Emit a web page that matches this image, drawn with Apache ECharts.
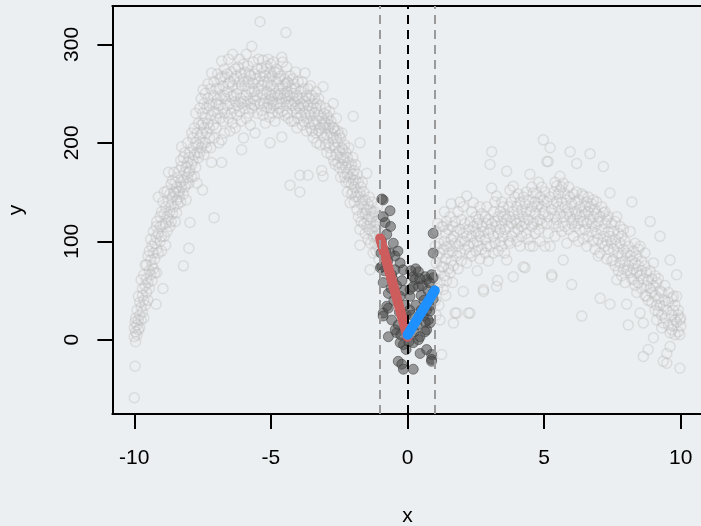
<!DOCTYPE html>
<html>
<head>
<meta charset="utf-8">
<title>Local fits around the cutoff</title>
<script src="https://cdn.jsdelivr.net/npm/echarts@6/dist/echarts.min.js"></script>
<style>
  html, body { margin: 0; padding: 0; background: #eceff1; }
  #chart { width: 701px; height: 526px; }
</style>
</head>
<body>
<div id="chart"></div>
<script>
// Axis ticks
const xTicks = [-10, -5, 0, 5, 10];
const yTicks = [0, 100, 200, 300];

// Bandwidth edges and the cutoff
const bandEdges = [-1, 1];
const cutoff = 0;

// Fitted lines on each side of the cutoff
const fitLeft = [[-1, 103], [0, 3]];
const fitRight = [[0, 5], [1, 50]];

// Observations below the bandwidth (x < -1)
const greyLeft = [
  [-10.0,-59],[-10.0,12],[-10.0,3],[-9.97,-27],[-9.97,18],[-9.95,8],[-9.95,22],[-9.95,-2],
  [-9.9,15],[-9.9,30],[-9.9,5],[-9.85,44],[-9.85,20],[-9.85,10],[-9.8,25],[-9.8,38],[-9.8,12],
  [-9.75,61],[-9.75,33],[-9.75,20],[-9.7,45],[-9.7,28],[-9.7,52],[-9.65,40],[-9.65,66],[-9.65,22],
  [-9.6,55],[-9.6,35],[-9.6,76],[-9.55,76],[-9.55,48],[-9.55,62],[-9.5,58],[-9.5,85],[-9.5,40],
  [-9.45,90],[-9.45,70],[-9.45,52],[-9.4,66],[-9.4,102],[-9.4,81],[-9.35,75],[-9.35,95],[-9.35,60],
  [-9.3,88],[-9.3,110],[-9.3,72],[-9.25,98],[-9.25,68],[-9.25,82],[-9.2,36],[-9.2,104],[-9.2,115],
  [-9.18,68],[-9.18,92],[-9.18,120],[-9.12,145],[-9.12,108],[-9.12,88],[-9.05,100],[-9.05,125],[-9.05,115],
  [-9.0,90],[-9.0,130],[-9.0,105],[-8.95,52],[-8.95,117],[-8.95,140],[-8.9,105],[-8.9,128],[-8.9,150],
  [-8.85,118],[-8.85,96],[-8.85,135],[-8.8,151],[-8.8,125],[-8.8,110],[-8.75,170],[-8.75,140],[-8.75,122],
  [-8.7,130],[-8.7,148],[-8.7,115],[-8.65,137],[-8.65,158],[-8.65,120],[-8.6,145],[-8.6,128],[-8.6,162],
  [-8.55,150],[-8.55,135],[-8.55,170],[-8.5,149],[-8.5,120],[-8.5,160],[-8.45,129],[-8.45,155],[-8.45,142],
  [-8.4,165],[-8.4,138],[-8.4,150],[-8.35,151],[-8.35,172],[-8.35,145],[-8.3,160],[-8.3,140],[-8.3,182],
  [-8.27,176],[-8.27,196],[-8.27,155],[-8.2,75],[-8.2,162],[-8.2,148],[-8.2,185],[-8.15,170],[-8.15,155],[-8.15,190],
  [-8.1,158],[-8.1,175],[-8.1,142],[-8.05,180],[-8.05,165],[-8.05,200],[-8.0,93],[-8.0,159],[-8.0,185],[-8.0,170],
  [-7.96,119],[-7.96,190],[-7.96,172],[-7.9,210],[-7.9,178],[-7.9,165],[-7.85,195],[-7.85,182],[-7.85,205],
  [-7.8,166],[-7.8,188],[-7.8,215],[-7.75,200],[-7.75,175],[-7.75,230],[-7.7,159],[-7.7,210],[-7.7,190],
  [-7.65,185],[-7.65,220],[-7.65,198],[-7.6,205],[-7.6,235],[-7.6,190],[-7.55,218],[-7.55,195],[-7.55,245],
  [-7.5,230],[-7.5,152],[-7.5,210],[-7.48,254],[-7.48,200],[-7.48,220],[-7.45,188],[-7.45,240],[-7.45,215],
  [-7.4,200],[-7.4,225],[-7.4,250],[-7.35,235],[-7.35,210],[-7.35,195],[-7.3,245],[-7.3,220],[-7.3,260],
  [-7.25,205],[-7.25,238],[-7.25,215],[-7.2,255],[-7.2,228],[-7.2,195],[-7.17,271],[-7.17,180],[-7.17,240],
  [-7.1,218],[-7.1,248],[-7.1,232],[-7.08,124],[-7.08,262],[-7.08,205],[-7.0,240],[-7.0,215],[-7.0,255],[-7.0,225],
  [-6.95,244],[-6.95,270],[-6.95,230],[-6.9,200],[-6.9,255],[-6.9,238],[-6.85,265],[-6.85,225],[-6.85,248],
  [-6.8,283],[-6.8,203],[-6.8,180],[-6.8,267],[-6.75,235],[-6.75,258],[-6.75,222],[-6.7,248],[-6.7,275],[-6.7,210],
  [-6.68,267],[-6.68,230],[-6.68,245],[-6.6,252],[-6.6,238],[-6.6,270],[-6.55,225],[-6.55,260],[-6.55,285],
  [-6.5,240],[-6.5,212],[-6.5,262],[-6.45,247],[-6.45,272],[-6.45,230],[-6.4,258],[-6.4,220],[-6.4,290],
  [-6.35,235],[-6.35,265],[-6.35,248],[-6.3,275],[-6.3,242],[-6.3,215],[-6.25,250],[-6.25,228],[-6.25,268],
  [-6.2,277],[-6.2,255],[-6.2,238],[-6.15,232],[-6.15,262],[-6.15,285],[-6.1,245],[-6.1,270],[-6.1,222],
  [-6.07,193],[-6.07,258],[-6.07,240],[-6.0,265],[-6.0,242],[-6.0,280],[-6.0,205],[-5.95,235],[-5.95,258],[-5.95,272],
  [-5.9,248],[-5.9,225],[-5.9,290],[-5.84,242],[-5.84,262],[-5.84,278],[-5.8,255],[-5.8,230],[-5.8,270],
  [-5.75,268],[-5.75,240],[-5.75,218],[-5.7,298],[-5.7,252],[-5.7,235],[-5.65,260],[-5.65,282],[-5.65,245],
  [-5.6,238],[-5.6,270],[-5.6,252],[-5.58,210],[-5.58,265],[-5.58,243],[-5.5,275],[-5.5,248],[-5.5,230],
  [-5.45,255],[-5.45,285],[-5.45,262],[-5.4,323],[-5.4,240],[-5.4,268],[-5.34,233],[-5.34,258],[-5.34,276],
  [-5.29,284],[-5.29,250],[-5.29,228],[-5.25,262],[-5.25,240],[-5.25,272],[-5.2,245],[-5.2,268],[-5.2,220],
  [-5.15,278],[-5.15,252],[-5.15,236],[-5.1,261],[-5.1,240],[-5.1,285],[-5.05,250],[-5.05,226],[-5.05,266],
  [-5.03,200],[-5.03,244],[-5.03,272],[-5.0,258],[-5.0,235],[-5.0,280],[-5.0,248],[-4.95,242],[-4.95,268],[-4.95,230],
  [-4.9,282],[-4.9,255],[-4.9,238],[-4.85,250],[-4.85,272],[-4.85,222],[-4.8,262],[-4.8,240],[-4.8,275],
  [-4.74,271],[-4.74,248],[-4.74,230],[-4.7,255],[-4.7,235],[-4.7,265],[-4.65,240],[-4.65,268],[-4.65,250],
  [-4.6,206],[-4.6,245],[-4.6,287],[-4.57,282],[-4.57,258],[-4.57,232],[-4.5,250],[-4.5,228],[-4.5,265],
  [-4.45,312],[-4.45,245],[-4.45,260],[-4.42,277],[-4.42,238],[-4.42,252],[-4.4,230],[-4.4,262],[-4.4,248],
  [-4.37,261],[-4.37,225],[-4.37,242],[-4.3,248],[-4.3,268],[-4.3,157],[-4.25,222],[-4.25,255],[-4.25,240],
  [-4.2,265],[-4.2,238],[-4.2,250],[-4.15,242],[-4.15,222],[-4.15,260],[-4.1,255],[-4.1,235],[-4.1,272],
  [-4.05,230],[-4.05,248],[-4.05,215],[-4.0,245],[-4.0,262],[-4.0,225],[-4.0,238],[-3.94,150],[-3.94,167],[-3.94,235],
  [-3.9,252],[-3.9,228],[-3.9,240],[-3.85,218],[-3.85,245],[-3.85,262],[-3.8,238],[-3.8,222],[-3.8,255],
  [-3.75,271],[-3.75,242],[-3.75,230],[-3.7,225],[-3.7,248],[-3.7,212],[-3.64,167],[-3.64,238],[-3.64,255],
  [-3.6,220],[-3.6,245],[-3.6,232],[-3.55,258],[-3.55,228],[-3.55,215],[-3.5,235],[-3.5,212],[-3.5,248],
  [-3.45,222],[-3.45,240],[-3.45,205],[-3.4,245],[-3.4,218],[-3.4,230],[-3.35,210],[-3.35,235],[-3.35,252],
  [-3.32,223],[-3.32,200],[-3.32,240],[-3.25,228],[-3.25,212],[-3.25,245],[-3.2,215],[-3.2,238],[-3.2,198],
  [-3.14,172],[-3.14,225],[-3.14,210],[-3.09,257],[-3.09,166],[-3.09,218],[-3.05,205],[-3.05,230],[-3.05,222],
  [-3.0,215],[-3.0,198],[-3.0,235],[-3.0,220],[-2.95,208],[-2.95,228],[-2.95,190],[-2.9,225],[-2.9,200],[-2.9,215],
  [-2.85,195],[-2.85,218],[-2.85,232],[-2.8,210],[-2.8,188],[-2.8,222],[-2.72,240],[-2.72,205],[-2.72,215],
  [-2.7,198],[-2.7,182],[-2.7,215],[-2.65,212],[-2.65,195],[-2.65,178],[-2.6,188],[-2.6,205],[-2.6,225],
  [-2.55,200],[-2.55,180],[-2.55,212],[-2.5,192],[-2.5,175],[-2.5,208],[-2.45,185],[-2.45,205],[-2.45,165],
  [-2.4,178],[-2.4,195],[-2.4,210],[-2.36,193],[-2.36,170],[-2.36,185],[-2.3,182],[-2.3,165],[-2.3,198],
  [-2.25,175],[-2.25,190],[-2.25,160],[-2.2,168],[-2.2,185],[-2.2,150],[-2.15,180],[-2.15,160],[-2.15,195],
  [-2.1,173],[-2.1,139],[-2.1,165],[-2.05,158],[-2.05,178],[-2.05,148],[-2.0,168],[-2.0,150],[-2.0,185],
  [-1.99,227],[-1.99,162],[-1.95,155],[-1.95,172],[-1.95,140],[-1.9,162],[-1.9,145],[-1.9,178],
  [-1.85,150],[-1.85,168],[-1.85,132],[-1.8,145],[-1.8,160],[-1.8,125],[-1.74,200],[-1.74,149],[-1.74,112],[-1.74,96],
  [-1.7,155],[-1.7,138],[-1.7,120],[-1.65,142],[-1.65,128],[-1.65,160],[-1.6,135],[-1.6,150],[-1.6,118],
  [-1.55,128],[-1.55,142],[-1.55,108],[-1.49,169],[-1.49,132],[-1.49,115],[-1.45,138],[-1.45,122],[-1.45,102],
  [-1.4,125],[-1.4,112],[-1.4,145],[-1.37,71],[-1.35,118],[-1.35,132],[-1.35,98],[-1.3,110],[-1.3,125],[-1.3,140],
  [-1.26,129],[-1.26,88],[-1.26,105],[-1.2,115],[-1.2,98],[-1.2,130],[-1.15,105],[-1.15,120],[-1.15,90],
  [-1.1,112],[-1.1,95],[-1.1,135],[-1.05,100],[-1.05,118],[-1.05,82],[-1.02,108],[-1.02,90],[-1.02,125]
];

// Observations above the bandwidth (x > 1)
const greyRight = [
  [1.02,62],[1.02,95],[1.02,40],[1.05,110],[1.05,78],[1.05,25],[1.1,85],[1.1,52],[1.1,118],
  [1.15,70],[1.15,98],[1.15,35],[1.19,58],[1.19,20],[1.19,88],[1.25,115],[1.25,-15],[1.25,74],
  [1.31,74],[1.31,51],[1.31,115],[1.31,92],[1.35,100],[1.35,65],[1.35,130],[1.4,82],[1.4,108],[1.4,45],
  [1.43,95],[1.43,120],[1.43,60],[1.5,88],[1.5,72],[1.5,112],[1.56,68],[1.56,95],[1.56,125],
  [1.6,102],[1.6,80],[1.6,138],[1.65,90],[1.65,115],[1.65,58],[1.68,17],[1.68,105],[1.68,75],
  [1.74,27],[1.74,98],[1.74,120],[1.8,27],[1.8,110],[1.8,85],[1.85,95],[1.85,130],[1.85,72],
  [1.92,112],[1.92,88],[1.92,140],[1.97,100],[1.97,122],[1.97,80],[2.04,49],[2.04,108],[2.04,135],
  [2.1,118],[2.1,92],[2.1,100],[2.17,146],[2.17,105],[2.17,78],[2.23,27],[2.23,112],[2.23,95],
  [2.29,88],[2.29,27],[2.29,120],[2.35,105],[2.35,130],[2.35,85],[2.41,139],[2.41,98],[2.41,115],
  [2.5,110],[2.5,90],[2.5,125],[2.55,100],[2.55,70],[2.55,118],[2.6,122],[2.6,95],[2.6,108],
  [2.65,105],[2.65,135],[2.65,82],[2.72,115],[2.72,92],[2.72,128],[2.78,49],[2.78,51],[2.78,110],
  [2.85,102],[2.85,125],[2.85,88],[2.9,118],[2.9,95],[2.9,135],[2.96,108],[2.96,80],[2.96,122],
  [3.02,178],[3.02,112],[3.02,95],[3.08,191],[3.08,154],[3.08,118],[3.14,88],[3.14,105],[3.14,130],
  [3.2,120],[3.2,98],[3.2,140],[3.26,146],[3.26,115],[3.26,54],[3.3,60],[3.32,108],[3.32,125],[3.32,90],
  [3.4,130],[3.4,112],[3.4,100],[3.45,118],[3.45,140],[3.45,95],[3.5,125],[3.5,105],[3.5,135],
  [3.56,112],[3.56,128],[3.56,88],[3.63,171],[3.63,81],[3.63,122],[3.7,135],[3.7,115],[3.7,100],
  [3.75,152],[3.75,98],[3.75,125],[3.8,118],[3.8,140],[3.8,105],[3.87,156],[3.87,64],[3.87,130],
  [3.93,122],[3.93,110],[3.93,145],[4.0,118],[4.0,135],[4.0,100],[4.05,128],[4.05,112],[4.05,148],
  [4.12,140],[4.12,120],[4.12,95],[4.18,115],[4.18,132],[4.18,105],[4.24,74],[4.24,125],[4.24,145],
  [4.3,73],[4.3,138],[4.3,118],[4.35,130],[4.35,108],[4.35,150],[4.42,122],[4.42,142],[4.42,102],
  [4.48,168],[4.48,95],[4.48,130],[4.55,135],[4.55,115],[4.55,155],[4.6,95],[4.6,118],[4.6,149],
  [4.67,128],[4.67,140],[4.67,108],[4.73,149],[4.73,120],[4.73,135],[4.8,112],[4.8,138],[4.8,160],
  [4.85,122],[4.85,145],[4.85,100],[4.92,135],[4.92,118],[4.92,155],[4.97,203],[4.97,128],[4.97,142],
  [5.03,95],[5.03,130],[5.03,150],[5.1,181],[5.1,118],[5.1,140],[5.15,181],[5.15,125],[5.15,108],
  [5.22,195],[5.22,95],[5.22,145],[5.28,66],[5.28,64],[5.28,132],[5.35,150],[5.35,118],[5.35,138],
  [5.4,125],[5.4,160],[5.4,105],[5.46,156],[5.46,122],[5.46,140],[5.52,135],[5.52,115],[5.52,148],
  [5.58,166],[5.58,152],[5.58,128],[5.64,140],[5.64,110],[5.64,155],[5.7,125],[5.7,81],[5.7,159],
  [5.76,135],[5.76,148],[5.76,115],[5.83,98],[5.83,142],[5.83,128],[5.9,130],[5.9,155],[5.9,112],
  [5.95,191],[5.95,125],[5.95,145],[6.01,56],[6.01,138],[6.01,118],[6.07,122],[6.07,148],[6.07,105],
  [6.13,140],[6.13,115],[6.13,130],[6.19,179],[6.19,128],[6.19,150],[6.25,118],[6.25,142],[6.25,100],
  [6.31,125],[6.31,135],[6.31,112],[6.38,24],[6.38,130],[6.38,148],[6.44,102],[6.44,146],[6.44,120],
  [6.5,135],[6.5,112],[6.5,128],[6.56,118],[6.56,140],[6.56,95],[6.62,130],[6.62,105],[6.62,145],
  [6.68,189],[6.68,122],[6.68,135],[6.74,110],[6.74,138],[6.74,118],[6.8,125],[6.8,100],[6.8,142],
  [6.86,115],[6.86,132],[6.86,92],[6.92,128],[6.92,108],[6.92,140],[6.98,102],[6.98,120],[6.98,85],
  [7.05,88],[7.05,42],[7.05,125],[7.11,112],[7.11,135],[7.11,98],[7.17,176],[7.17,129],[7.17,105],
  [7.23,118],[7.23,95],[7.23,130],[7.29,100],[7.29,122],[7.29,82],[7.35,110],[7.35,92],[7.35,125],
  [7.41,36],[7.41,149],[7.41,105],[7.47,98],[7.47,118],[7.47,80],[7.53,81],[7.53,110],[7.53,92],
  [7.6,102],[7.6,75],[7.6,120],[7.66,125],[7.66,61],[7.66,95],[7.72,88],[7.72,108],[7.72,70],
  [7.78,98],[7.78,115],[7.78,78],[7.84,85],[7.84,105],[7.84,65],[7.9,92],[7.9,72],[7.9,112],
  [7.96,80],[7.96,100],[7.96,58],[8.02,36],[8.02,88],[8.02,70],[8.08,15],[8.08,95],[8.08,75],
  [8.15,110],[8.15,68],[8.15,85],[8.21,140],[8.21,80],[8.21,62],[8.27,61],[8.27,90],[8.27,72],
  [8.33,78],[8.33,55],[8.33,98],[8.39,68],[8.39,85],[8.39,48],[8.45,75],[8.45,58],[8.45,92],
  [8.51,95],[8.51,27],[8.51,65],[8.57,52],[8.57,80],[8.57,70],[8.63,17],[8.63,-17],[8.63,62],
  [8.69,75],[8.69,45],[8.69,88],[8.75,44],[8.75,68],[8.75,55],[8.81,-10],[8.81,60],[8.81,40],
  [8.88,120],[8.88,52],[8.88,70],[8.94,38],[8.94,62],[8.94,48],[9.0,2],[9.0,78],[9.0,55],
  [9.06,45],[9.06,30],[9.06,65],[9.12,58],[9.12,35],[9.12,20],[9.18,42],[9.18,62],[9.18,28],
  [9.24,105],[9.24,35],[9.24,50],[9.3,25],[9.3,48],[9.3,12],[9.36,17],[9.36,-22],[9.36,34],
  [9.42,40],[9.42,22],[9.42,55],[9.49,-24],[9.49,-14],[9.49,30],[9.55,38],[9.55,15],[9.55,48],
  [9.61,81],[9.61,-7],[9.61,7],[9.67,25],[9.67,42],[9.67,10],[9.73,14],[9.73,44],[9.73,30],
  [9.79,20],[9.79,5],[9.79,35],[9.85,66],[9.85,44],[9.85,18],[9.91,25],[9.91,8],[9.91,30],
  [9.97,20],[9.97,5],[9.97,-29],[10.0,14],[10.0,22]
];

// Observations inside the bandwidth (-1 <= x <= 1)
const bandPoints = [
  [-0.99,73],[-0.94,143],[-0.89,142],[-0.89,125],[-0.64,131],[-0.82,119],[-0.76,107],[-0.52,98],
  [-0.64,88],[-0.46,85],[-0.27,78],[-0.94,74],[-0.46,71],[-0.16,71],[-0.89,58],[-0.70,47],
  [-0.27,44],[-0.76,34],[-0.70,32],[-0.89,27],[-0.89,24],[-0.58,20],[-0.34,15],[-0.70,3],
  [-0.40,7],[-0.15,-5],[-0.27,-3],[-0.34,-22],[-0.21,-25],[-0.15,-30],[-0.55,62],[-0.40,55],
  [-0.20,60],[-0.10,35],[-0.30,28],[-0.50,40],[-0.60,52],[-0.08,15],[-0.12,50],[-0.05,25],
  [-0.95,100],[-0.80,90],[-0.72,80],[-0.58,66],[-0.35,90],[-0.62,115],[-0.97,88],[-0.85,70],
  [-0.45,10],[-0.25,5],[-0.05,-10],
  [0.40,69],[0.70,61],[0.94,63],[0.21,64],[0.40,54],[0.09,51],[0.27,61],[0.64,64],[0.88,66],
  [0.94,108],[0.94,88],[0.88,-15],[0.88,-20],[0.88,-22],[0.21,-30],[0.21,-3],[0.46,3],[0.40,0],
  [0.70,10],[0.64,8],[0.82,17],[0.76,20],[0.58,24],[0.82,29],[0.70,30],[0.94,41],[0.46,-14],
  [0.70,-10],[0.09,44],[0.21,54],[0.05,-2],[0.30,35],[0.50,45],[0.60,40],[0.15,25],[0.35,15],
  [0.55,55],[0.75,50],[0.85,35],[0.30,72],[0.12,70],[0.50,30],[0.65,18],[0.25,8],[0.08,30],
  [0.95,48],[0.80,58],[0.45,62]
];

const FONT = '"Liberation Sans", Arial, Helvetica, sans-serif';
const chart = echarts.init(document.getElementById('chart'), null, { renderer: 'canvas' });

const dash = (x, color, width) => ({
  xAxis: x,
  lineStyle: { color: color, width: width, type: [9, 6] }
});

// The x range runs past the right edge of the canvas, so the frame stays open there
const X_MIN = -10.8, X_MAX = 10.8;
const Y_MIN = -75.5, Y_MAX = 339;
const frameLine = () => ({ show: true, onZero: false, lineStyle: { color: '#000', width: 2 } });
const tickStyle = (values) => ({
  show: true, inside: false, length: 15, customValues: values,
  lineStyle: { color: '#000', width: 2 }
});

chart.setOption({
  backgroundColor: '#eceff1',
  animation: false,
  grid: {
    left: 112.4, top: 6, width: 590.2, height: 408,
    show: false, containLabel: false, outerBoundsMode: 'none'
  },
  xAxis: [
    {
      type: 'value', position: 'bottom', min: X_MIN, max: X_MAX,
      name: 'x', nameLocation: 'middle', nameGap: 92,
      nameTextStyle: { fontFamily: FONT, fontSize: 21, color: '#000' },
      axisLine: frameLine(),
      splitLine: { show: false },
      axisTick: tickStyle(xTicks),
      axisLabel: { show: true, customValues: xTicks, margin: 34, fontFamily: FONT, fontSize: 21, color: '#000' }
    },
    {
      type: 'value', position: 'top', min: X_MIN, max: X_MAX,
      axisLine: frameLine(), axisTick: { show: false }, axisLabel: { show: false }, splitLine: { show: false }
    }
  ],
  yAxis: {
    type: 'value', min: Y_MIN, max: Y_MAX,
    name: 'y', nameLocation: 'middle', nameGap: 86,
    nameTextStyle: { fontFamily: FONT, fontSize: 21, color: '#000' },
    axisLine: frameLine(),
    splitLine: { show: false },
    axisTick: tickStyle(yTicks),
    axisLabel: { show: true, customValues: yTicks, rotate: 90, margin: 30, fontFamily: FONT, fontSize: 21, color: '#000' }
  },
  series: [
    {
      type: 'scatter', z: 1, silent: true,
      data: greyLeft.concat(greyRight),
      symbol: 'circle', symbolSize: 10,
      itemStyle: { color: 'rgba(0,0,0,0)', borderColor: 'rgba(190,190,190,0.5)', borderWidth: 1.5 }
    },
    {
      type: 'scatter', z: 2, silent: true,
      data: bandPoints,
      symbol: 'circle', symbolSize: 10,
      itemStyle: { color: 'rgba(70,70,70,0.65)', borderColor: 'rgba(60,60,60,0.7)', borderWidth: 1 }
    },
    {
      type: 'line', z: 3, silent: true, data: [],
      markLine: {
        silent: true, symbol: ['none', 'none'], label: { show: false },
        data: [
          dash(bandEdges[0], '#9a9a9a', 2),
          dash(bandEdges[1], '#9a9a9a', 2),
          dash(cutoff, '#000', 2)
        ]
      }
    },
    {
      type: 'line', z: 4, silent: true, data: fitLeft, showSymbol: false,
      lineStyle: { color: '#cd5c5c', width: 10, cap: 'round' }
    },
    {
      type: 'line', z: 5, silent: true, data: fitRight, showSymbol: false,
      lineStyle: { color: '#1e90ff', width: 10, cap: 'round' }
    }
  ]
});
</script>
</body>
</html>
